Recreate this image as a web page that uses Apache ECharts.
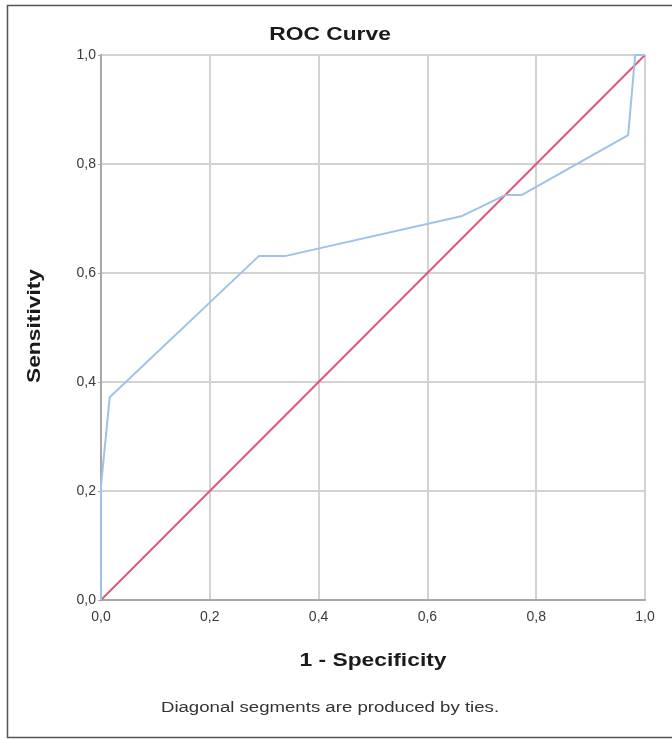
<!DOCTYPE html>
<html>
<head>
<meta charset="utf-8">
<script src="https://cdn.jsdelivr.net/npm/echarts@6/dist/echarts.min.js"></script>
<style>
  html, body { margin: 0; padding: 0; background: #fff; }
  #chart { width: 672px; height: 739px; }
</style>
</head>
<body>
<div id="chart"></div>
<script>
// ROC curve points: [1 - specificity, sensitivity]
const rocX = [0, 0, 0.016, 0.29, 0.338, 0.662, 0.743, 0.773, 0.969, 0.982, 1]
const rocY = [0, 0.21, 0.372, 0.631, 0.631, 0.704, 0.743, 0.743, 0.853, 1, 1]
// reference diagonal
const diagX = [0, 1]
const diagY = [0, 1]
const tickLabels = ['0,0', '0,2', '0,4', '0,6', '0,8', '1,0']

const fontFam = '"Liberation Sans", Arial, sans-serif'
const fontGray = '#3a3a3a'
const darkText = '#1a1a1a'

const chart = echarts.init(document.getElementById('chart'))

const fmt = v => tickLabels[Math.round(v / 0.2)]

// the source picture is a bit stretched sideways, so texts get a scaleX
function label(text, x, y, size, bold, color, rotation) {
  return {
    type: 'text', x: x, y: y, scaleX: 1.2, rotation: rotation || 0,
    style: {
      text: text, fontFamily: fontFam, fontSize: size, fontWeight: bold ? 'bold' : 'normal',
      fill: color, align: 'center', verticalAlign: 'middle'
    }
  }
}

chart.setOption({
  animation: false,
  grid: { left: 101, right: 27, top: 55, bottom: 139 },
  xAxis: {
    type: 'value', min: 0, max: 1, interval: 0.2,
    axisLine: { lineStyle: { color: '#a8a8a8', width: 2 } },
    axisTick: { show: false },
    axisLabel: { formatter: fmt, fontFamily: fontFam, fontSize: 14, color: fontGray, margin: 10 },
    splitLine: { show: true, lineStyle: { color: '#d2d2d2', width: 2 } }
  },
  yAxis: {
    type: 'value', min: 0, max: 1, interval: 0.2,
    axisLine: { show: true, lineStyle: { color: '#a8a8a8', width: 2 } },
    axisTick: { show: true, length: 3, lineStyle: { color: '#a8a8a8' } },
    axisLabel: { formatter: fmt, fontFamily: fontFam, fontSize: 14, color: fontGray, margin: 5 },
    splitLine: { show: true, lineStyle: { color: '#d2d2d2', width: 2 } }
  },
  series: [
    {
      type: 'line', data: diagX.map((x, i) => [x, diagY[i]]),
      showSymbol: false, silent: true,
      lineStyle: { color: '#e0577c', width: 2 }
    },
    {
      type: 'line', data: rocX.map((x, i) => [x, rocY[i]]),
      showSymbol: false, silent: true,
      lineStyle: { color: '#9ec2ea', width: 2 }
    }
  ],
  graphic: [
    {
      type: 'rect', left: 5, top: 3, z: -1,
      shape: { width: 700, height: 732 },
      style: { fill: 'none', stroke: '#555', lineWidth: 1.5 }
    },
    label('ROC Curve', 330, 35, 19, true, darkText),
    label('1 - Specificity', 373, 661, 19, true, darkText),
    label('Sensitivity', 35, 326, 19, true, darkText, Math.PI / 2),
    label('Diagonal segments are produced by ties.', 330, 708, 15.5, false, '#333')
  ]
})
</script>
</body>
</html>
